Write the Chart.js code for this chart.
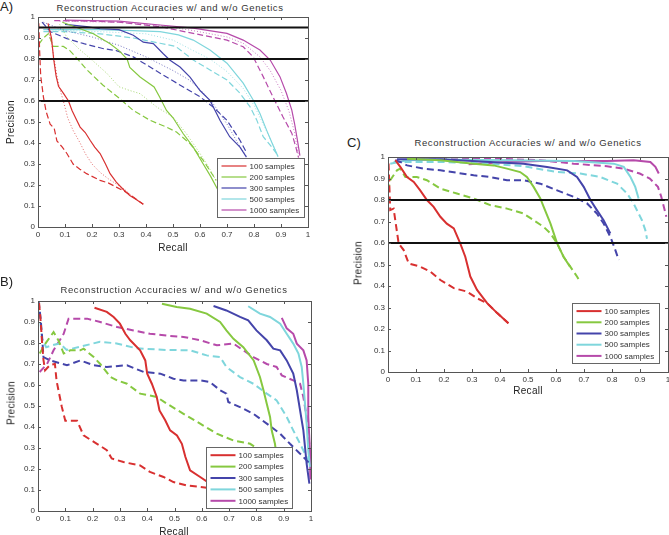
<!DOCTYPE html>
<html>
<head>
<meta charset="utf-8">
<script src="https://cdn.jsdelivr.net/npm/chart.js@4.4.1/dist/chart.umd.min.js"></script>
<style>
html, body { margin: 0; padding: 0; background: #fff; overflow: hidden; width: 669px; height: 535px; }
.panel { position: absolute; }
.txt { position: absolute; font-family: "Liberation Sans", Arial, sans-serif; color: #222; white-space: nowrap; transform: translate(-50%, -50%); }
.title { font-size: 9.5px; letter-spacing: 0.6px; color: #333; }
.letter { font-size: 13px; transform: none; }
.axis { font-size: 10px; letter-spacing: 0.3px; color: #222; }
.ylab { transform: translate(-50%, -50%) rotate(-90deg); }
</style>
</head>
<body>

<div class="txt letter" style="left:0px;top:-1px">A)</div>
<div class="txt title" style="left:170px;top:7px">Reconstruction Accuracies w/ and w/o Genetics</div>
<div class="panel" style="left:0;top:0;width:320px;height:255px"><canvas id="chartA"></canvas></div>
<div class="txt axis" style="left:173px;top:247px">Recall</div>
<div class="txt axis ylab" style="left:10px;top:122px">Precision</div>

<div class="txt letter" style="left:0px;top:274px">B)</div>
<div class="txt title" style="left:174px;top:289px">Reconstruction Accuracies w/ and w/o Genetics</div>
<div class="panel" style="left:0;top:285px;width:325px;height:250px"><canvas id="chartB"></canvas></div>
<div class="txt axis" style="left:174px;top:531px">Recall</div>
<div class="txt axis ylab" style="left:11px;top:403px">Precision</div>

<div class="txt letter" style="left:347px;top:135px">C)</div>
<div class="txt title" style="left:528px;top:142px">Reconstruction Accuracies w/ and w/o Genetics</div>
<div class="panel" style="left:350px;top:140px;width:330px;height:260px"><canvas id="chartC"></canvas></div>
<div class="txt axis" style="left:528px;top:390px">Recall</div>
<div class="txt axis ylab" style="left:358px;top:263px">Precision</div>

<script>
// legend names and colours
const sampleNames = ['100 samples', '200 samples', '300 samples', '500 samples', '1000 samples'];
const sampleColors = ['#d83030', '#86c840', '#4444aa', '#7fd6dc', '#b64aaa'];
const axisTicks = [0, 0.1, 0.2, 0.3, 0.4, 0.5, 0.6, 0.7, 0.8, 0.9, 1];

// precision thresholds (black lines)
const aThresholds = [0.95, 0.8, 0.6];
const cThresholds = [0.8, 0.6];

// ---- panel A: [recall, precision] ----
const aRed = [[0.037,0.97],[0.05,0.90],[0.058,0.80],[0.067,0.72],[0.076,0.67],[0.095,0.635],[0.113,0.60],[0.126,0.555],[0.143,0.51],[0.156,0.476],[0.175,0.45],[0.193,0.413],[0.21,0.38],[0.23,0.35],[0.25,0.30],[0.267,0.254],[0.29,0.214],[0.315,0.18],[0.34,0.15],[0.365,0.13],[0.39,0.108]];
const aRedDash = [[0.003,0.97],[0.006,0.84],[0.01,0.72],[0.02,0.62],[0.03,0.55],[0.045,0.49],[0.06,0.47],[0.07,0.41],[0.09,0.38],[0.107,0.35],[0.13,0.30],[0.155,0.275],[0.18,0.254],[0.23,0.222],[0.26,0.21],[0.29,0.19],[0.32,0.17],[0.353,0.143],[0.39,0.108]];
const aRedDot = [[0.04,0.93],[0.05,0.875],[0.06,0.80],[0.07,0.72],[0.08,0.66],[0.094,0.60],[0.11,0.52],[0.13,0.46],[0.156,0.40],[0.175,0.35],[0.2,0.30],[0.23,0.26],[0.26,0.23],[0.29,0.205],[0.32,0.18],[0.35,0.145],[0.39,0.108]];
const aGreen = [[0.09,0.975],[0.144,0.95],[0.205,0.92],[0.267,0.873],[0.30,0.84],[0.33,0.80],[0.34,0.76],[0.378,0.714],[0.43,0.667],[0.45,0.62],[0.476,0.555],[0.50,0.52],[0.538,0.444],[0.575,0.38],[0.612,0.30],[0.64,0.24],[0.665,0.18]];
const aGreenDash = [[0.003,0.87],[0.02,0.9],[0.038,0.92],[0.057,0.86],[0.094,0.86],[0.118,0.84],[0.15,0.795],[0.18,0.75],[0.24,0.676],[0.30,0.614],[0.353,0.555],[0.415,0.508],[0.476,0.476],[0.513,0.452],[0.563,0.397],[0.612,0.317],[0.66,0.222]];
const aGreenDot = [[0.08,0.965],[0.106,0.906],[0.15,0.85],[0.20,0.795],[0.254,0.733],[0.30,0.668],[0.34,0.65],[0.378,0.635],[0.44,0.571],[0.50,0.524],[0.55,0.444],[0.60,0.35],[0.63,0.29],[0.66,0.22]];
const aBlue = [[0.1,0.965],[0.18,0.954],[0.23,0.944],[0.30,0.94],[0.353,0.913],[0.39,0.88],[0.427,0.873],[0.464,0.825],[0.489,0.794],[0.526,0.762],[0.563,0.714],[0.60,0.65],[0.637,0.603],[0.674,0.508],[0.71,0.43],[0.748,0.38],[0.772,0.333]];
const aBlueDash = [[0.015,0.976],[0.046,0.93],[0.107,0.897],[0.17,0.873],[0.243,0.849],[0.29,0.84],[0.353,0.81],[0.415,0.762],[0.476,0.714],[0.538,0.667],[0.60,0.62],[0.649,0.571],[0.70,0.508],[0.748,0.413],[0.77,0.36]];
const aBlueDot = [[0.02,0.975],[0.1,0.935],[0.2,0.905],[0.3,0.865],[0.4,0.81],[0.5,0.745],[0.56,0.70],[0.6,0.655],[0.65,0.585],[0.7,0.49],[0.74,0.40],[0.77,0.34]];
const aCyan = [[0.02,0.94],[0.1,0.94],[0.23,0.94],[0.353,0.935],[0.452,0.93],[0.52,0.915],[0.575,0.89],[0.637,0.843],[0.70,0.78],[0.76,0.685],[0.797,0.605],[0.822,0.54],[0.847,0.46],[0.87,0.39],[0.889,0.335]];
const aCyanDash = [[0.02,0.93],[0.1,0.93],[0.23,0.92],[0.353,0.9],[0.452,0.875],[0.51,0.86],[0.575,0.795],[0.637,0.748],[0.70,0.70],[0.748,0.637],[0.785,0.573],[0.81,0.51],[0.834,0.43],[0.86,0.39],[0.889,0.34]];
const aCyanDot = [[0.02,0.94],[0.23,0.93],[0.4,0.92],[0.5,0.89],[0.575,0.84],[0.637,0.80],[0.70,0.74],[0.76,0.66],[0.80,0.58],[0.83,0.50],[0.86,0.42],[0.889,0.34]];
const aMagenta = [[0.1,0.985],[0.3,0.98],[0.452,0.962],[0.575,0.947],[0.70,0.922],[0.76,0.89],[0.822,0.843],[0.86,0.795],[0.896,0.716],[0.92,0.637],[0.94,0.557],[0.95,0.494],[0.96,0.42],[0.97,0.34]];
const aMagentaDash = [[0.06,0.983],[0.2,0.98],[0.3,0.975],[0.452,0.954],[0.575,0.922],[0.70,0.89],[0.76,0.858],[0.797,0.81],[0.834,0.716],[0.87,0.62],[0.907,0.525],[0.94,0.447],[0.955,0.38],[0.965,0.33]];
const aMagentaDot = [[0.08,0.98],[0.3,0.975],[0.452,0.96],[0.575,0.935],[0.70,0.905],[0.76,0.875],[0.822,0.81],[0.86,0.745],[0.9,0.65],[0.93,0.55],[0.95,0.45],[0.965,0.34]];

// ---- panel B ----
const bRed = [[0.207,0.968],[0.252,0.948],[0.277,0.924],[0.30,0.892],[0.32,0.844],[0.338,0.813],[0.374,0.765],[0.393,0.717],[0.40,0.654],[0.417,0.606],[0.435,0.543],[0.445,0.479],[0.466,0.432],[0.484,0.384],[0.509,0.36],[0.527,0.32],[0.54,0.257],[0.557,0.194],[0.594,0.162],[0.63,0.13]];
const bRedDash = [[0.004,0.99],[0.01,0.90],[0.015,0.80],[0.02,0.72],[0.026,0.67],[0.044,0.695],[0.062,0.70],[0.068,0.62],[0.087,0.497],[0.10,0.43],[0.143,0.43],[0.167,0.36],[0.216,0.32],[0.252,0.29],[0.27,0.25],[0.313,0.233],[0.374,0.217],[0.41,0.186],[0.46,0.162],[0.496,0.138],[0.545,0.122],[0.618,0.111],[0.655,0.098]];
const bGreen = [[0.454,0.987],[0.508,0.971],[0.557,0.963],[0.618,0.94],[0.667,0.90],[0.69,0.86],[0.716,0.82],[0.752,0.78],[0.79,0.717],[0.813,0.638],[0.826,0.575],[0.838,0.511],[0.85,0.448],[0.856,0.384],[0.868,0.32],[0.875,0.25]];
const bGreenDash = [[0.006,0.75],[0.027,0.797],[0.057,0.852],[0.076,0.81],[0.094,0.75],[0.118,0.765],[0.155,0.765],[0.167,0.773],[0.204,0.733],[0.228,0.70],[0.265,0.638],[0.29,0.622],[0.326,0.606],[0.374,0.559],[0.435,0.543],[0.472,0.511],[0.533,0.463],[0.594,0.416],[0.655,0.368],[0.716,0.336],[0.777,0.32],[0.8,0.3]];
const bBlue = [[0.643,0.976],[0.69,0.955],[0.74,0.924],[0.77,0.908],[0.80,0.86],[0.838,0.813],[0.862,0.773],[0.887,0.765],[0.911,0.717],[0.935,0.654],[0.948,0.575],[0.96,0.479],[0.972,0.384],[0.978,0.305],[0.984,0.225],[0.994,0.13]];
const bBlueDash = [[0.002,1.0],[0.009,0.924],[0.015,0.829],[0.02,0.733],[0.045,0.717],[0.106,0.694],[0.155,0.717],[0.204,0.694],[0.252,0.686],[0.326,0.694],[0.387,0.662],[0.448,0.654],[0.496,0.63],[0.533,0.622],[0.594,0.622],[0.63,0.614],[0.667,0.575],[0.69,0.559],[0.697,0.519],[0.74,0.495],[0.789,0.463],[0.838,0.416],[0.887,0.368],[0.923,0.32],[0.96,0.273],[0.984,0.241],[0.996,0.225]];
const bCyan = [[0.77,0.975],[0.813,0.94],[0.85,0.924],[0.887,0.892],[0.911,0.844],[0.935,0.797],[0.954,0.75],[0.966,0.686],[0.972,0.606],[0.978,0.511],[0.984,0.416],[0.99,0.289],[0.996,0.21]];
const bCyanDash = [[0.005,0.95],[0.015,0.82],[0.03,0.78],[0.055,0.79],[0.08,0.798],[0.105,0.767],[0.154,0.782],[0.227,0.806],[0.288,0.798],[0.36,0.775],[0.47,0.767],[0.557,0.765],[0.618,0.741],[0.667,0.733],[0.69,0.686],[0.74,0.638],[0.789,0.606],[0.838,0.559],[0.874,0.527],[0.911,0.448],[0.935,0.384],[0.96,0.32],[0.984,0.257],[0.996,0.21]];
const bMagenta = [[0.893,0.92],[0.911,0.87],[0.935,0.844],[0.948,0.797],[0.972,0.765],[0.984,0.717],[0.99,0.606],[0.99,0.448],[0.996,0.289],[0.998,0.15]];
const bMagentaDash = [[0.006,0.662],[0.033,0.70],[0.057,0.765],[0.094,0.844],[0.112,0.916],[0.18,0.916],[0.228,0.90],[0.29,0.876],[0.35,0.86],[0.41,0.844],[0.472,0.835],[0.533,0.829],[0.594,0.813],[0.655,0.789],[0.716,0.797],[0.752,0.765],[0.789,0.733],[0.838,0.70],[0.874,0.686],[0.893,0.646],[0.935,0.622],[0.96,0.606],[0.972,0.543],[0.984,0.448],[0.996,0.289],[0.999,0.16]];

// ---- panel C ----
const cRed = [[0.026,0.985],[0.044,0.954],[0.068,0.907],[0.092,0.884],[0.115,0.845],[0.139,0.80],[0.163,0.768],[0.187,0.722],[0.21,0.69],[0.235,0.668],[0.258,0.598],[0.276,0.536],[0.294,0.444],[0.318,0.382],[0.354,0.32],[0.39,0.274],[0.43,0.227]];
const cRedDash = [[0.002,0.97],[0.005,0.86],[0.008,0.753],[0.02,0.76],[0.026,0.706],[0.038,0.598],[0.056,0.567],[0.074,0.505],[0.115,0.49],[0.151,0.467],[0.187,0.428],[0.235,0.39],[0.282,0.374],[0.318,0.343],[0.354,0.32],[0.39,0.274],[0.43,0.227]];
const cGreen = [[0.068,0.992],[0.187,0.985],[0.306,0.969],[0.377,0.961],[0.425,0.946],[0.472,0.93],[0.496,0.907],[0.52,0.861],[0.544,0.807],[0.556,0.768],[0.58,0.691],[0.604,0.598],[0.627,0.536],[0.65,0.49]];
const cGreenDash = [[0.0,0.84],[0.008,0.892],[0.032,0.938],[0.044,0.946],[0.062,0.907],[0.103,0.907],[0.139,0.892],[0.187,0.853],[0.246,0.83],[0.306,0.807],[0.365,0.776],[0.425,0.76],[0.484,0.737],[0.52,0.706],[0.556,0.675],[0.58,0.645],[0.604,0.598],[0.627,0.536],[0.651,0.49],[0.675,0.444],[0.687,0.417]];
const cBlue = [[0.032,0.99],[0.187,0.989],[0.365,0.977],[0.484,0.969],[0.568,0.954],[0.64,0.938],[0.675,0.907],[0.699,0.861],[0.723,0.80],[0.746,0.753],[0.77,0.706],[0.788,0.66],[0.794,0.644]];
const cBlueDash = [[0.026,0.985],[0.044,0.977],[0.068,0.961],[0.127,0.946],[0.187,0.938],[0.306,0.915],[0.365,0.907],[0.425,0.892],[0.484,0.892],[0.544,0.876],[0.604,0.845],[0.663,0.815],[0.711,0.784],[0.746,0.737],[0.77,0.691],[0.794,0.629],[0.812,0.567],[0.824,0.521]];
const cCyan = [[0.008,0.969],[0.068,0.985],[0.187,0.988],[0.425,0.985],[0.663,0.981],[0.806,0.969],[0.842,0.954],[0.866,0.907],[0.883,0.861],[0.895,0.807]];
const cCyanDash = [[0.02,0.977],[0.187,0.977],[0.365,0.969],[0.484,0.957],[0.604,0.93],[0.687,0.923],[0.758,0.907],[0.818,0.876],[0.854,0.83],[0.877,0.784],[0.895,0.737],[0.907,0.706],[0.919,0.66],[0.925,0.62]];
const cMagenta = [[0.288,0.966],[0.425,0.977],[0.544,0.981],[0.663,0.981],[0.782,0.981],[0.877,0.985],[0.937,0.977],[0.955,0.954],[0.967,0.923]];
const cMagentaDash = [[0.068,1.0],[0.306,0.995],[0.544,0.985],[0.663,0.969],[0.782,0.957],[0.842,0.946],[0.899,0.923],[0.935,0.90],[0.964,0.861],[0.976,0.815],[0.988,0.753],[0.994,0.722]];

const FONT = '"Liberation Sans", Arial, sans-serif';
const toXY = arr => arr.map(p => ({ x: p[0], y: p[1] }));
const tickLabel = v => String(Math.round(v * 10) / 10);

function curve(data, colorIdx, style, width) {
    let dash = [];
    if (style === 'dash') dash = width > 1.5 ? [7, 4] : [6, 3];
    if (style === 'dot') dash = [1, 2];
    return {
        data: toXY(data),
        borderColor: sampleColors[colorIdx] + (style === 'dot' ? 'bb' : ''),
        borderWidth: width,
        borderDash: dash,
        pointRadius: 0,
        tension: 0,
        fill: false
    };
}

function thresholdLines(values) {
    return values.map(v => ({
        data: [{ x: axisTicks[0], y: v }, { x: axisTicks[axisTicks.length - 1], y: v }],
        borderColor: '#111',
        borderWidth: 2,
        pointRadius: 0
    }));
}

// MATLAB style box with inward ticks + boxed legend
const matlabBox = {
    id: 'matlabBox',
    afterDatasetsDraw(chart, args, opts) {
        const { ctx, chartArea: a, scales } = chart;
        ctx.save();
        ctx.strokeStyle = '#555';
        ctx.lineWidth = 1;
        ctx.beginPath();
        axisTicks.forEach(t => {
            const x = Math.round(scales.x.getPixelForValue(t)) + 0.5;
            const y = Math.round(scales.y.getPixelForValue(t)) + 0.5;
            ctx.moveTo(x, a.bottom); ctx.lineTo(x, a.bottom - 3);
            ctx.moveTo(x, a.top); ctx.lineTo(x, a.top + 3);
            ctx.moveTo(a.left, y); ctx.lineTo(a.left + 3, y);
            ctx.moveTo(a.right, y); ctx.lineTo(a.right - 3, y);
        });
        ctx.stroke();
        ctx.strokeRect(Math.round(a.left) + 0.5, Math.round(a.top) + 0.5, Math.round(a.right - a.left), Math.round(a.bottom - a.top));

        // legend
        const w = opts.width, h = opts.height;
        const lx = Math.round(a.right - opts.right - w) + 0.5;
        const ly = Math.round(a.bottom - opts.bottom - h) + 0.5;
        ctx.fillStyle = '#fff';
        ctx.fillRect(lx, ly, w, h);
        ctx.strokeStyle = '#666';
        ctx.strokeRect(lx, ly, w, h);
        ctx.font = '8px ' + FONT;
        ctx.textBaseline = 'middle';
        const step = (h - 4) / sampleNames.length;
        sampleNames.forEach((name, i) => {
            const y = ly + 2 + step * (i + 0.5);
            ctx.strokeStyle = sampleColors[i];
            ctx.lineWidth = opts.lineWidth;
            ctx.beginPath();
            ctx.moveTo(lx + 4, y); ctx.lineTo(lx + 29, y);
            ctx.stroke();
            ctx.fillStyle = '#333';
            ctx.fillText(name, lx + 32, y + 0.5);
        });
        ctx.restore();
    }
};

function makeChart(id, datasets, pad, legendOpts) {
    return new Chart(document.getElementById(id), {
        type: 'line',
        data: { datasets: datasets },
        plugins: [matlabBox],
        options: {
            responsive: true,
            maintainAspectRatio: false,
            animation: false,
            layout: { padding: { top: pad.top, right: pad.right, left: 0, bottom: 0 } },
            plugins: {
                legend: { display: false },
                tooltip: { enabled: false },
                matlabBox: legendOpts
            },
            scales: {
                x: {
                    type: 'linear', min: 0, max: 1,
                    grid: { display: false, drawTicks: false },
                    border: { display: false },
                    ticks: { stepSize: 0.1, maxRotation: 0, autoSkip: false, padding: 3, color: '#333', font: { size: 8, family: FONT }, callback: tickLabel },
                    afterFit: s => { s.height = pad.xh; }
                },
                y: {
                    type: 'linear', min: 0, max: 1,
                    grid: { display: false, drawTicks: false },
                    border: { display: false },
                    ticks: { stepSize: 0.1, autoSkip: false, padding: 3, color: '#333', font: { size: 8, family: FONT }, callback: tickLabel },
                    afterFit: s => { s.width = 38; }
                }
            }
        }
    });
}

makeChart('chartA', [
    ...thresholdLines(aThresholds),
    curve(aRed, 0, 'solid', 1.2), curve(aRedDash, 0, 'dash', 1.2), curve(aRedDot, 0, 'dot', 1),
    curve(aGreen, 1, 'solid', 1.2), curve(aGreenDash, 1, 'dash', 1.2), curve(aGreenDot, 1, 'dot', 1),
    curve(aBlue, 2, 'solid', 1.2), curve(aBlueDash, 2, 'dash', 1.2), curve(aBlueDot, 2, 'dot', 1),
    curve(aCyan, 3, 'solid', 1.2), curve(aCyanDash, 3, 'dash', 1.2), curve(aCyanDot, 3, 'dot', 1),
    curve(aMagenta, 4, 'solid', 1.2), curve(aMagentaDash, 4, 'dash', 1.2), curve(aMagentaDot, 4, 'dot', 1)
], { top: 17, right: 12, xh: 28 }, { right: 4, bottom: 10, width: 87, height: 59, lineWidth: 1.2 });

makeChart('chartB', [
    curve(bRed, 0, 'solid', 2), curve(bRedDash, 0, 'dash', 2),
    curve(bGreen, 1, 'solid', 2), curve(bGreenDash, 1, 'dash', 2),
    curve(bBlue, 2, 'solid', 2), curve(bBlueDash, 2, 'dash', 2),
    curve(bCyan, 3, 'solid', 2), curve(bCyanDash, 3, 'dash', 2),
    curve(bMagenta, 4, 'solid', 2), curve(bMagentaDash, 4, 'dash', 2)
], { top: 16, right: 14, xh: 24 }, { right: 19, bottom: 3, width: 86, height: 61, lineWidth: 2 });

makeChart('chartC', [
    ...thresholdLines(cThresholds),
    curve(cRed, 0, 'solid', 2), curve(cRedDash, 0, 'dash', 2),
    curve(cGreen, 1, 'solid', 2), curve(cGreenDash, 1, 'dash', 2),
    curve(cBlue, 2, 'solid', 2), curve(cBlueDash, 2, 'dash', 2),
    curve(cCyan, 3, 'solid', 2), curve(cCyanDash, 3, 'dash', 2),
    curve(cMagenta, 4, 'solid', 2), curve(cMagentaDash, 4, 'dash', 2)
], { top: 17, right: 12, xh: 28 }, { right: 9, bottom: 9, width: 87, height: 60, lineWidth: 2 });
</script>
</body>
</html>
